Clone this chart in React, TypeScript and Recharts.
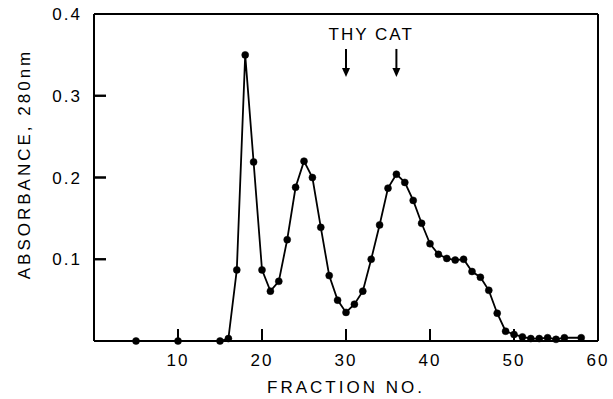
import React from "react";
import {
  LineChart, Line, XAxis, YAxis, ReferenceLine, ReferenceDot,
} from "recharts";

// Absorbance at 280 nm per collected fraction
const FRACTIONS = [5, 10, 15, 16, 17, 18, 19, 20, 21, 22, 23, 24, 25, 26, 27, 28, 29, 30, 31, 32, 33, 34, 35, 36, 37, 38, 39, 40, 41, 42, 43, 44, 45, 46, 47, 48, 49, 50, 51, 52, 53, 54, 55, 56, 58];
const ABSORBANCE = [0, 0, 0, 0.003, 0.087, 0.35, 0.219, 0.087, 0.061, 0.073, 0.124, 0.188, 0.22, 0.2, 0.139, 0.08, 0.05, 0.035, 0.045, 0.061, 0.1, 0.142, 0.187, 0.204, 0.194, 0.172, 0.144, 0.119, 0.106, 0.101, 0.099, 0.1, 0.085, 0.078, 0.062, 0.034, 0.012, 0.008, 0.005, 0.003, 0.003, 0.004, 0.002, 0.004, 0.004];

const X_TICKS = [10, 20, 30, 40, 50, 60];
const Y_TICKS = [0.1, 0.2, 0.3, 0.4];
const X_MARKS = [10, 20, 30, 40, 50]; // inward tick marks
const Y_MARKS = [0.1, 0.2, 0.3];
const MARKERS = [30, 36]; // THY, CAT

const INK = "#000";
const FONT = "'Liberation Sans', Arial, sans-serif";

const data = FRACTIONS.map((f, i) => ({ fraction: f, abs: ABSORBANCE[i] }));

function XTick(props: any) {
  const { x, y, payload } = props;
  const v = Number(payload.value);
  return (
    <g>
      {v < 60 && <rect x={x - 1} y={y - 12} width={2} height={12} fill={INK} />}
      <text x={x} y={y + 25} textAnchor="middle" fill={INK} fontSize={17}
        fontFamily={FONT} letterSpacing={2}>{v}</text>
    </g>
  );
}

function YTick(props: any) {
  const { x, y, payload } = props;
  const v = Number(payload.value);
  return (
    <g>
      {v < 0.4 && <rect x={x} y={y - 1} width={12} height={2} fill={INK} />}
      <text x={x - 12} y={y + 6} textAnchor="end" fill={INK} fontSize={17}
        fontFamily={FONT} letterSpacing={2}>{v.toFixed(1)}</text>
    </g>
  );
}

function UpMark({ cx, cy }: any) {
  if (cx == null || cy == null) return null;
  return <rect x={cx - 1} y={cy - 12} width={2} height={12} fill={INK} />;
}

function RightMark({ cx, cy }: any) {
  if (cx == null || cy == null) return null;
  return <rect x={cx} y={cy - 1} width={12} height={2} fill={INK} />;
}

function Arrow({ cx, cy }: any) {
  if (cx == null || cy == null) return null;
  return (
    <g>
      <line x1={cx} y1={cy - 28} x2={cx} y2={cy - 6} stroke={INK} strokeWidth={2} />
      <path d={`M${cx - 4},${cy - 9} L${cx + 4},${cy - 9} L${cx},${cy} Z`} fill={INK} />
    </g>
  );
}

function Caption({ cx, cy }: any) {
  if (cx == null || cy == null) return null;
  return (
    <text x={cx} y={cy} textAnchor="middle" fill={INK} fontSize={17}
      fontFamily={FONT} letterSpacing={2}>THY CAT</text>
  );
}

export default function App() {
  return (
    <div style={{ position: "absolute", left: 0, top: 0, background: "#fff" }}>
      <LineChart width={613} height={399} data={data}
        margin={{ top: 13, right: 14, left: 0, bottom: 0 }}>
        <XAxis
          dataKey="fraction"
          type="number"
          domain={[0, 60]}
          ticks={X_TICKS}
          height={58}
          tickSize={0}
          tickMargin={0}
          tickLine={false}
          axisLine={{ stroke: INK, strokeWidth: 2 }}
          tick={(p: any) => <XTick {...p} />}
          label={(p: any) => {
            const vb = p.viewBox;
            return (
              <text x={vb.x + vb.width / 2} y={vb.y + 52} textAnchor="middle" fill={INK}
                fontSize={17} fontFamily={FONT} letterSpacing={3}>FRACTION NO.</text>
            );
          }}
        />
        {/* frame: top edge */}
        <XAxis
          xAxisId="top"
          orientation="top"
          type="number"
          domain={[0, 60]}
          ticks={X_TICKS}
          height={1}
          tick={false}
          tickLine={false}
          axisLine={{ stroke: INK, strokeWidth: 2 }}
        />
        <YAxis
          type="number"
          domain={[0, 0.4]}
          ticks={Y_TICKS}
          width={94}
          tickSize={0}
          tickMargin={0}
          tickLine={false}
          axisLine={{ stroke: INK, strokeWidth: 2 }}
          tick={(p: any) => <YTick {...p} />}
          label={() => (
            <text x={26} y={164} transform="rotate(-90 26 164)" textAnchor="middle"
              dominantBaseline="middle" fill={INK} fontSize={17} fontFamily={FONT}
              letterSpacing={3}>ABSORBANCE, 280nm</text>
          )}
        />
        {/* frame: right edge */}
        <YAxis
          yAxisId="right"
          orientation="right"
          type="number"
          domain={[0, 0.4]}
          ticks={Y_TICKS}
          width={1}
          tick={false}
          tickLine={false}
          axisLine={{ stroke: INK, strokeWidth: 2 }}
        />
        <ReferenceLine y={0.4} stroke={INK} strokeWidth={2} ifOverflow="visible" />
        <ReferenceLine x={60} stroke={INK} strokeWidth={2} ifOverflow="visible" />
        {X_MARKS.map((t) => (
          <ReferenceDot key={`x${t}`} x={t} y={0} ifOverflow="visible"
            shape={(p: any) => <UpMark {...p} />} />
        ))}
        {Y_MARKS.map((t) => (
          <ReferenceDot key={`y${t}`} x={0} y={t} ifOverflow="visible"
            shape={(p: any) => <RightMark {...p} />} />
        ))}
        {MARKERS.map((m) => (
          <ReferenceDot key={m} x={m} y={0.323} shape={(p: any) => <Arrow {...p} />} />
        ))}
        <ReferenceDot x={33} y={0.368} shape={(p: any) => <Caption {...p} />} />
        <Line
          dataKey="abs"
          type="linear"
          stroke={INK}
          strokeWidth={1.8}
          dot={{ r: 3.5, fill: INK, stroke: INK, strokeWidth: 0.5 }}
          activeDot={false}
          isAnimationActive={false}
        />
      </LineChart>
    </div>
  );
}
